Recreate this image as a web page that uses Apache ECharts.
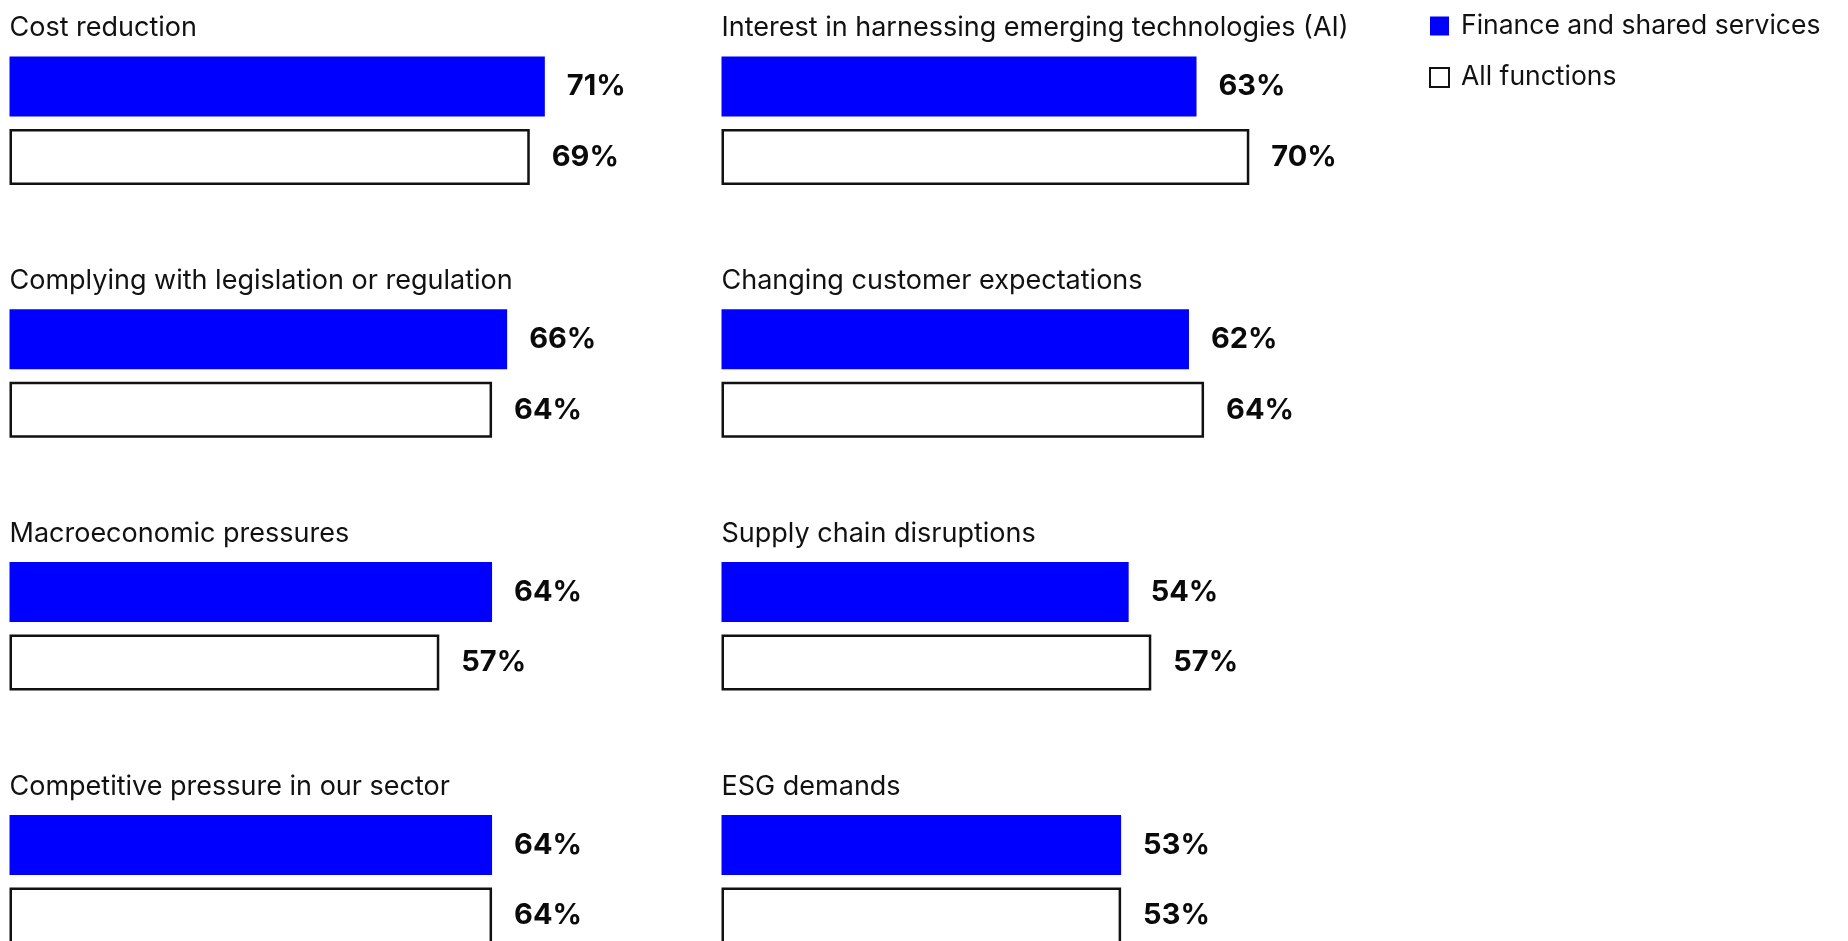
<!DOCTYPE html>
<html>
<head>
<meta charset="utf-8">
<script src="https://cdn.jsdelivr.net/npm/echarts@6/dist/echarts.min.js"></script>
<style>
  html, body { margin: 0; padding: 0; background: #ffffff; }
  #chart { width: 1848px; height: 941px; }
</style>
</head>
<body>
<div id="chart"></div>
<script>
// Drivers of change, two groups of respondents (% citing each driver)
const drivers = [
  'Cost reduction',
  'Interest in harnessing emerging technologies (AI)',
  'Complying with legislation or regulation',
  'Changing customer expectations',
  'Macroeconomic pressures',
  'Supply chain disruptions',
  'Competitive pressure in our sector',
  'ESG demands'
];
const financeShared = [71, 63, 66, 62, 64, 54, 64, 53];
const allFunctions  = [69, 70, 64, 64, 57, 57, 64, 53];
const groupNames = ['Finance and shared services', 'All functions'];

// Panel layout: two columns, four rows
const colLeft = [9.5, 721.5];
const rowPitch = 252.8;
const gridTop0 = 48.25;
const gridHeight = 145;
const gridWidth = 754;      // 0–100 %
const titleTop0 = 14.5;

const FONT = 'Inter, "Noto Sans", sans-serif';
const BLUE = '#0000ff';
const INK = '#111111';

const grids = [], xAxes = [], yAxes = [], series = [], titles = [];

drivers.forEach((name, i) => {
  const col = i % 2, row = Math.floor(i / 2);
  grids.push({
    left: colLeft[col],
    top: gridTop0 + row * rowPitch,
    width: gridWidth,
    height: gridHeight,
    containLabel: false,
    outerBoundsMode: 'none'
  });
  xAxes.push({
    type: 'value', gridIndex: i, min: 0, max: 100,
    show: false
  });
  yAxes.push({
    type: 'category', gridIndex: i, inverse: true,
    data: groupNames, show: false
  });
  const label = {
    show: true, position: 'right', distance: 22,
    formatter: p => p.value + '%',
    fontFamily: FONT, fontSize: 29, fontWeight: 'bold', color: '#0a0a0a'
  };
  series.push({
    type: 'bar', name: groupNames[0],
    xAxisIndex: i, yAxisIndex: i,
    data: [financeShared[i], '-'],
    barWidth: 60, barGap: '-100%',
    itemStyle: { color: BLUE },
    label
  });
  series.push({
    type: 'bar', name: groupNames[1],
    xAxisIndex: i, yAxisIndex: i,
    data: ['-', allFunctions[i]],
    barWidth: 56, barGap: '-100%',
    itemStyle: { color: '#ffffff', borderColor: INK, borderWidth: 2.5 },
    label
  });
  titles.push({
    text: name,
    left: colLeft[col],
    top: titleTop0 + row * rowPitch,
    padding: 0,
    textStyle: { fontFamily: FONT, fontSize: 27, fontWeight: 'normal', color: INK }
  });
});

const chart = echarts.init(document.getElementById('chart'), null, { renderer: 'canvas' });
chart.setOption({
  animation: false,
  backgroundColor: '#ffffff',
  title: titles,
  legend: {
    orient: 'vertical',
    left: 1429, top: 12.5,
    padding: 0,
    itemWidth: 19, itemHeight: 19, itemGap: 24.5,
    icon: 'rect',
    textStyle: { fontFamily: FONT, fontSize: 26.5, color: INK, padding: [0, 0, 0, 7] },
    data: [
      { name: groupNames[0], itemStyle: { color: BLUE } },
      { name: groupNames[1], itemStyle: { color: '#ffffff', borderColor: INK, borderWidth: 2 } }
    ]
  },
  grid: grids,
  xAxis: xAxes,
  yAxis: yAxes,
  series
});
</script>
</body>
</html>
